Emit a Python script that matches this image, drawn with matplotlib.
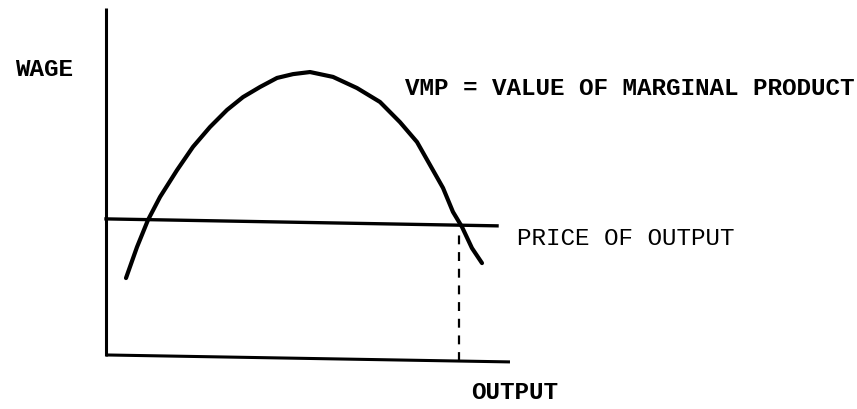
import matplotlib
matplotlib.use("Agg")
import matplotlib.pyplot as plt

# VMP curve (output, wage) in 0-100 units
vmp_output = [4.95, 7.67, 10.40, 13.37, 17.57, 21.53, 25.74, 29.95, 33.91, 38.12, 42.33, 46.29,
              50.50, 56.19, 62.13, 67.82, 72.77, 76.98, 80.20, 83.42, 85.89, 88.12, 90.59, 93.07]
vmp_wage = [22.4, 31.3, 39.1, 45.7, 53.4, 60.1, 65.8, 70.7, 74.4, 77.3, 79.9, 81.0,
            81.6, 80.2, 77.0, 73.0, 67.2, 61.5, 54.9, 48.3, 41.4, 37.1, 31.0, 26.7]

# hand-drawn lines are slightly tilted
price_x = [0, 96.8]
price_y = [39.4, 37.4]
xaxis_x = [0, 100]
xaxis_y = [0.3, -1.7]
yaxis_x = [0, 0]
yaxis_y = [0, 100]
drop_x = [87.4, 87.4]
drop_y = [-1.3, 36.2]

font = "Liberation Mono"

fig = plt.figure(figsize=(8.57, 4.09), dpi=100)
ax = fig.add_axes([0, 0, 1, 1])
ax.set_xlim(-26.24, 185.9)
ax.set_ylim(-15.23, 102.3)
ax.axis("off")

# axes of the diagram
ax.plot(yaxis_x, yaxis_y, color="black", lw=2.2, solid_capstyle="butt")
ax.plot(xaxis_x, xaxis_y, color="black", lw=2.2, solid_capstyle="butt")

# price of output line
ax.plot(price_x, price_y, color="black", lw=2.4)

# VMP curve
ax.plot(vmp_output, vmp_wage, color="black", lw=3, solid_capstyle="round", solid_joinstyle="round")

# dashed drop line to output axis
ax.plot(drop_x, drop_y, color="black", lw=1.6, linestyle=(0, (4, 3.5)))

ax.text(-15.35, 82.2, "WAGE", family=font, fontsize=17.5, fontweight="bold",
        ha="center", va="center")
ax.text(74.0, 77.0, "VMP = VALUE OF MARGINAL PRODUCT", family=font, fontsize=17.5,
        fontweight="bold", ha="left", va="center")
ax.text(101.7, 33.9, "PRICE OF OUTPUT", family=font, fontsize=17.5,
        ha="left", va="center")
ax.text(101.2, -10.6, "OUTPUT", family=font, fontsize=17.5, fontweight="bold",
        ha="center", va="center")

fig.savefig("out.png", dpi=100)
